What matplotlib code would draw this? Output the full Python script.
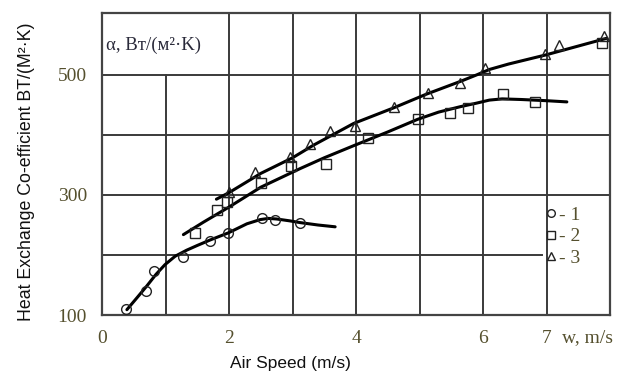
import matplotlib
matplotlib.use("Agg")
import matplotlib.pyplot as plt

# measured points (markers)
S1_X = [0.38, 0.69, 0.81, 1.28, 1.70, 1.99, 2.52, 2.72, 3.12]
S1_Y = [110, 140, 174, 196, 223, 236, 262, 258, 254]
S2_X = [1.46, 1.81, 1.97, 2.50, 2.98, 3.52, 4.19, 4.97, 5.48, 5.77, 6.32, 6.82, 7.87]
S2_Y = [236, 275, 289, 320, 348, 352, 395, 427, 437, 445, 468, 455, 553]
S3_X = [2.00, 2.40, 2.96, 3.28, 3.59, 3.98, 4.60, 5.14, 5.64, 6.03, 6.98, 7.19, 7.91]
S3_Y = [305, 339, 364, 385, 407, 415, 447, 470, 487, 512, 535, 550, 564]

# fitted curves
C1_X = [0.39, 0.55, 0.70, 0.85, 0.99, 1.15, 1.33, 1.50, 1.70, 1.99, 2.28, 2.49, 2.62, 2.75, 2.95, 3.12, 3.40, 3.67]
C1_Y = [109, 129, 148, 168, 184, 198, 208, 216, 225, 237, 252, 259, 261, 260, 257, 254, 250, 247]
C2_X = [1.28, 1.60, 2.00, 2.50, 3.12, 3.50, 3.96, 4.50, 4.97, 5.30, 5.64, 5.90, 6.10, 6.30, 6.60, 7.00, 7.32]
C2_Y = [234, 255, 280, 313, 344, 362, 382, 405, 426, 438, 447, 453, 458, 460, 459, 457, 455]
C3_X = [1.80, 2.00, 2.50, 3.00, 3.33, 3.96, 4.59, 5.11, 5.64, 5.90, 6.10, 6.40, 6.98, 7.50, 7.95]
C3_Y = [293, 304, 336, 362, 383, 419, 445, 468, 489, 500, 509, 518, 533, 548, 561]

X_TICKS = [0, 2, 4, 6, 7]
Y_TICKS = [100, 300, 500]
LEGEND_LABELS = ["- 1", "- 2", "- 3"]

TICK_COLOR = "#55502e"
GRID_COLOR = "#3a3a3a"
SERIF = "Liberation Serif"
SANS = "Liberation Sans"

fig = plt.figure(figsize=(6.19, 3.72), dpi=100)
ax = fig.add_axes([0.165, 0.153, 0.8205, 0.812])
ax.set_xlim(0, 8)
ax.set_ylim(100, 603)

# grid, with the gaps of the original drawing
for gx in range(1, 8):
    top = (500 - 100) / (603 - 100) if gx == 1 else 1
    ax.axvline(gx, ymin=0, ymax=top, color=GRID_COLOR, lw=1.4, zorder=1)
for gy in [200, 300, 400, 500]:
    right = 6.93 / 8 if gy == 200 else 1
    ax.axhline(gy, xmin=0, xmax=right, color=GRID_COLOR, lw=1.4, zorder=1)

for sp in ax.spines.values():
    sp.set_linewidth(1.6)
    sp.set_color("#444444")

line_kw = dict(color="black", lw=2.2, zorder=3, solid_joinstyle="round",
               solid_capstyle="round")
ax.plot(C1_X, C1_Y, **line_kw)
ax.plot(C2_X, C2_Y, **line_kw)
ax.plot(C3_X, C3_Y, **line_kw)

mk = dict(linestyle="none", markerfacecolor="none", markeredgecolor="#222222",
          markeredgewidth=1.0, markersize=7, zorder=4)
h1, = ax.plot(S1_X, S1_Y, marker="o", **mk)
h2, = ax.plot(S2_X, S2_Y, marker="s", **mk)
h3, = ax.plot(S3_X, S3_Y, marker="^", **mk)

ax.set_xticks(X_TICKS)
ax.set_xticklabels([str(t) for t in X_TICKS])
ax.set_yticks(Y_TICKS)
ax.set_yticklabels([str(t) for t in Y_TICKS])
ax.tick_params(length=0, labelsize=14, labelcolor=TICK_COLOR)
ax.tick_params(axis="x", pad=11)
ax.tick_params(axis="y", pad=11)
for lab in ax.get_xticklabels() + ax.get_yticklabels():
    lab.set_family(SERIF)

ax.text(7.64, -0.073, "w, m/s", transform=ax.get_xaxis_transform(), ha="center",
        va="center", fontsize=14, family=SERIF, color=TICK_COLOR)

ax.text(0.008, 0.894, "α, Вт/(м²·K)", transform=ax.transAxes, ha="left",
        va="center", fontsize=13.5, family=SERIF, color="#2a2a3a")

ax.set_ylabel("Heat Exchange Co-efficient BT/(M²·K)", fontsize=12.8, family=SANS,
              color="#111111")
ax.yaxis.set_label_coords(-0.133, 0.475)
ax.set_xlabel("Air Speed (m/s)", fontsize=12.5, family=SANS, color="#111111")
ax.xaxis.set_label_coords(0.37, -0.135)

leg_handles = []
for h in (h1, h2, h3):
    leg_handles.append(plt.Line2D([], [], marker=h.get_marker(), linestyle="none",
                                  markerfacecolor="none", markeredgecolor="#222222",
                                  markeredgewidth=1.0, markersize=5.5))
leg = ax.legend(leg_handles, LEGEND_LABELS, loc="upper left",
                bbox_to_anchor=(0.872, 0.36), frameon=False, handlelength=0.6,
                handletextpad=0.1, borderpad=0, borderaxespad=0, labelspacing=0.2,
                prop={"family": SERIF, "size": 14})
for t in leg.get_texts():
    t.set_color(TICK_COLOR)

fig.savefig("out.png", dpi=100)
